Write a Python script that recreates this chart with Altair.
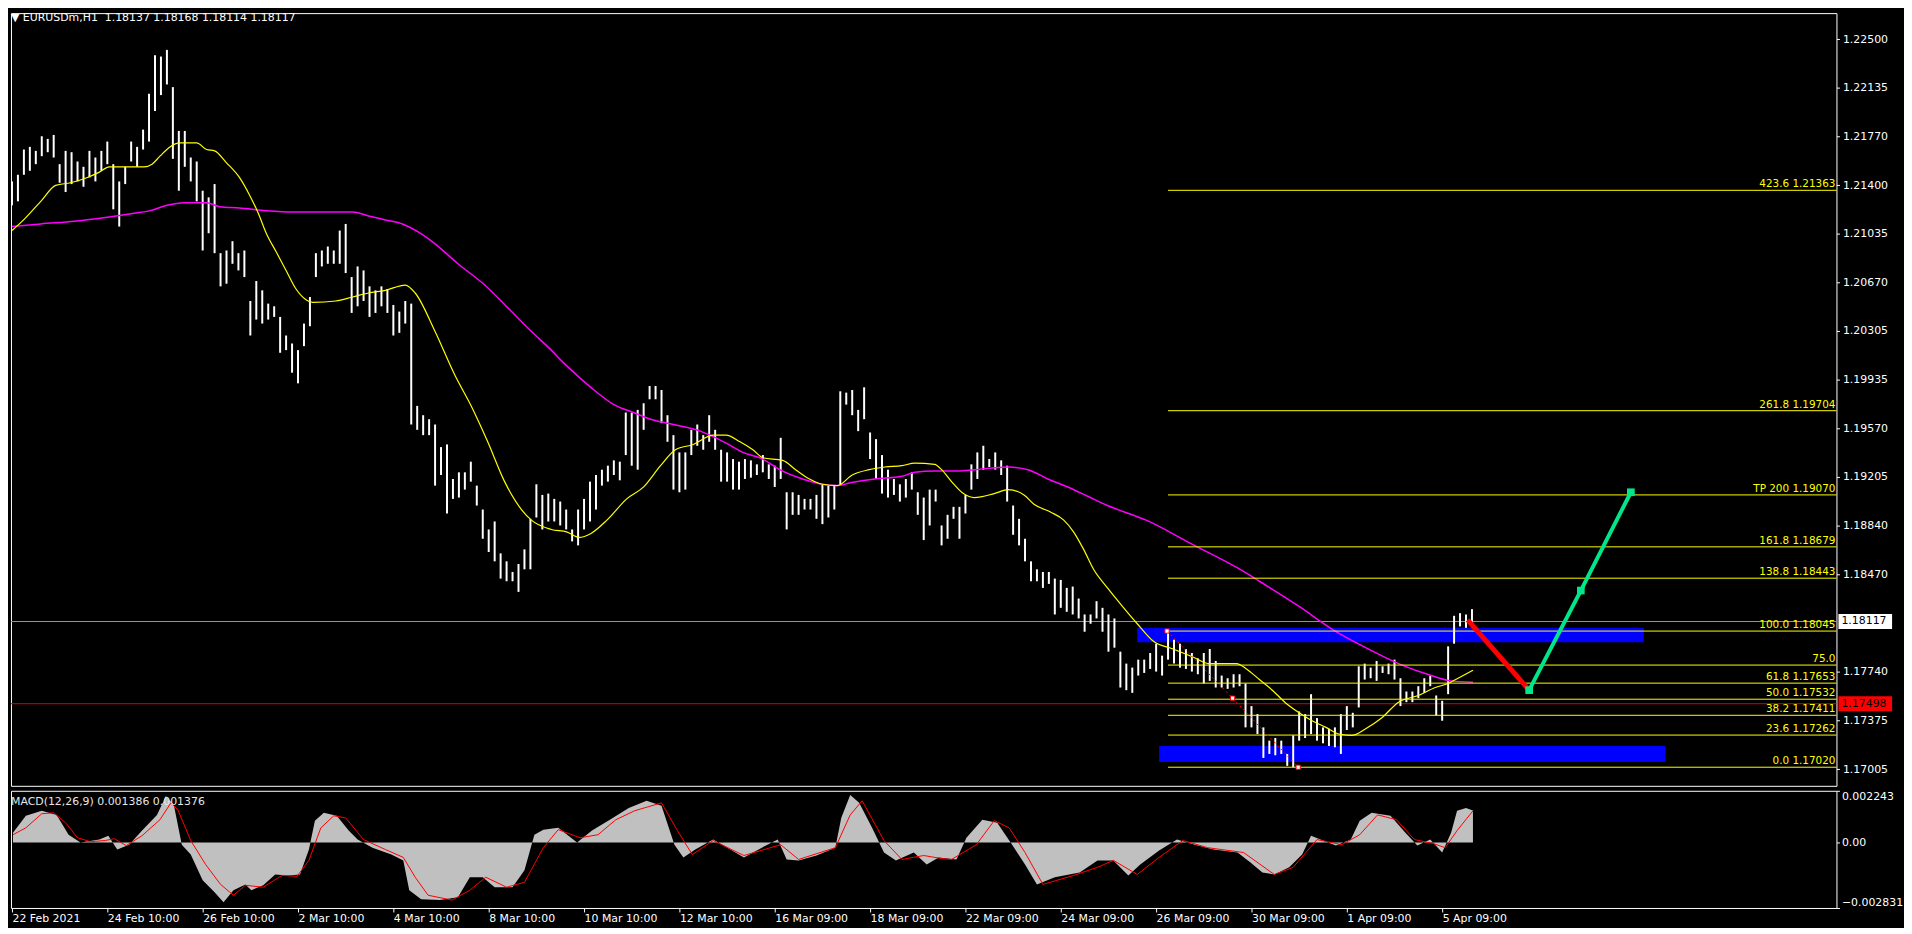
import altair as alt
import pandas as pd

FONT = "DejaVu Sans"
W = 1838
H_MAIN = 778
H_MACD = 118
X_DOMAIN = [-0.5, 918.5]
PRICE_DOMAIN = [1.16880, 1.22697]
MACD_DOMAIN = [-0.002831, 0.002243]

# ---------------- price bars (one drawn bar for every 3 hourly bars) ----------------
BAR_STEP = 3
bar_high = [
    1.2143, 1.2148, 1.2167, 1.2169, 1.2166, 1.2177, 1.2175, 1.2178, 1.2156, 1.2166,
    1.2165, 1.2158, 1.2154, 1.2166, 1.2161, 1.2166, 1.2173, 1.2156, 1.2143, 1.2154,
    1.2173, 1.2169, 1.2182, 1.2209, 1.2238, 1.2237, 1.2242, 1.2214, 1.2181, 1.2181,
    1.2161, 1.2158, 1.2136, 1.2131, 1.2141, 1.2089, 1.2091, 1.2098, 1.2089, 1.2091,
    1.2053, 1.2068, 1.2061, 1.2051, 1.2049, 1.2041, 1.2027, 1.2021, 1.2016, 1.2036,
    1.2056, 1.2089, 1.2091, 1.2094, 1.2091, 1.2106, 1.2111, 1.2071, 1.2079, 1.2076,
    1.2064, 1.2061, 1.2064, 1.2062, 1.2050, 1.2045, 1.2053, 1.2051, 1.1974, 1.1967,
    1.1964, 1.1960, 1.1943, 1.1945, 1.1919, 1.1924, 1.1924, 1.1932, 1.1914, 1.1896,
    1.1881, 1.1887, 1.1863, 1.1857, 1.1849, 1.1855, 1.1866, 1.1889, 1.1915, 1.1907,
    1.1908, 1.1904, 1.1902, 1.1896, 1.1881, 1.1896, 1.1904, 1.1917, 1.1922, 1.1926,
    1.1929, 1.1933, 1.1932, 1.1969, 1.1969, 1.1971, 1.1976, 1.1989, 1.1989, 1.1986,
    1.1967, 1.1952, 1.1939, 1.1939, 1.1956, 1.1960, 1.1952, 1.1967, 1.1956, 1.1941,
    1.1939, 1.1934, 1.1932, 1.1934, 1.1933, 1.1930, 1.1937, 1.1930, 1.1929, 1.1950,
    1.1909, 1.1909, 1.1907, 1.1904, 1.1904, 1.1907, 1.1915, 1.1914, 1.1914, 1.1985,
    1.1984, 1.1986, 1.1971, 1.1988, 1.1954, 1.1949, 1.1937, 1.1926, 1.1919, 1.1915,
    1.1919, 1.1924, 1.1909, 1.1905, 1.1911, 1.1911, 1.1884, 1.1892, 1.1898, 1.1898,
    1.1907, 1.1930, 1.1939, 1.1944, 1.1934, 1.1939, 1.1933, 1.1929, 1.1899, 1.1889,
    1.1874, 1.1857, 1.1851, 1.1849, 1.1849, 1.1844, 1.1843, 1.1837, 1.1838, 1.1829,
    1.1817, 1.1817, 1.1827, 1.1822, 1.1817, 1.1814, 1.1789, 1.1780, 1.1777, 1.1783,
    1.1783, 1.1788, 1.1795, 1.1786, 1.1804, 1.1798, 1.1795, 1.1791, 1.1788, 1.1784,
    1.1788, 1.1791, 1.1782, 1.1771, 1.1769, 1.1772, 1.1772, 1.1765, 1.1748, 1.1742,
    1.1732, 1.1722, 1.1724, 1.1722, 1.1712, 1.1726, 1.1744, 1.1742, 1.1757, 1.1739,
    1.1732, 1.1731, 1.1732, 1.1742, 1.1748, 1.1743, 1.1778, 1.1780, 1.1777, 1.1782,
    1.1778, 1.1780, 1.1783, 1.1769, 1.1759, 1.1759, 1.1763, 1.1769, 1.1771, 1.1756,
    1.1752, 1.1793, 1.1816, 1.1818, 1.1817, 1.1821,
]
bar_low = [
    1.2125, 1.2128, 1.2148, 1.2151, 1.2156, 1.2162, 1.2165, 1.2161, 1.2142, 1.2135,
    1.2141, 1.2143, 1.2139, 1.2146, 1.2143, 1.2151, 1.2156, 1.2122, 1.2109, 1.2141,
    1.2158, 1.2154, 1.2167, 1.2173, 1.2196, 1.2208, 1.2216, 1.2160, 1.2136, 1.2154,
    1.2143, 1.2128, 1.2091, 1.2104, 1.2089, 1.2064, 1.2066, 1.2081, 1.2076, 1.2071,
    1.2027, 1.2039, 1.2036, 1.2039, 1.2041, 1.2014, 1.2016, 1.1999, 1.1991, 1.2019,
    1.2034, 1.2071, 1.2079, 1.2081, 1.2081, 1.2081, 1.2074, 1.2044, 1.2049, 1.2053,
    1.2041, 1.2044, 1.2049, 1.2044, 1.2027, 1.2029, 1.2036, 1.1960, 1.1956, 1.1952,
    1.1952, 1.1914, 1.1922, 1.1893, 1.1904, 1.1905, 1.1911, 1.1917, 1.1899, 1.1874,
    1.1864, 1.1857, 1.1844, 1.1842, 1.1842, 1.1834, 1.1851, 1.1851, 1.1890, 1.1881,
    1.1887, 1.1887, 1.1884, 1.1881, 1.1872, 1.1869, 1.1881, 1.1887, 1.1896, 1.1914,
    1.1917, 1.1922, 1.1918, 1.1937, 1.1929, 1.1926, 1.1956, 1.1979, 1.1979, 1.1961,
    1.1947, 1.1911, 1.1909, 1.1911, 1.1937, 1.1944, 1.1941, 1.1947, 1.1941, 1.1917,
    1.1917, 1.1911, 1.1911, 1.1919, 1.1920, 1.1922, 1.1924, 1.1919, 1.1913, 1.1919,
    1.1881, 1.1892, 1.1892, 1.1896, 1.1896, 1.1889, 1.1885, 1.1890, 1.1896, 1.1914,
    1.1975, 1.1967, 1.1955, 1.1964, 1.1934, 1.1919, 1.1908, 1.1905, 1.1907, 1.1902,
    1.1905, 1.1911, 1.1892, 1.1873, 1.1884, 1.1902, 1.1869, 1.1874, 1.1889, 1.1874,
    1.1893, 1.1911, 1.1919, 1.1926, 1.1928, 1.1926, 1.1922, 1.1902, 1.1877, 1.1869,
    1.1857, 1.1842, 1.1842, 1.1837, 1.1840, 1.1817, 1.1822, 1.1819, 1.1817, 1.1814,
    1.1804, 1.1810, 1.1814, 1.1804, 1.1789, 1.1792, 1.1762, 1.1760, 1.1758, 1.1771,
    1.1773, 1.1776, 1.1774, 1.1771, 1.1783, 1.1780, 1.1777, 1.1776, 1.1774, 1.1772,
    1.1765, 1.1767, 1.1762, 1.1762, 1.1761, 1.1762, 1.1763, 1.1732, 1.1732, 1.1727,
    1.1709, 1.1712, 1.1711, 1.1712, 1.1703, 1.1702, 1.1722, 1.1724, 1.1727, 1.1722,
    1.1720, 1.1718, 1.1717, 1.1712, 1.1730, 1.1732, 1.1747, 1.1768, 1.1769, 1.1767,
    1.1773, 1.1772, 1.1768, 1.1748, 1.1751, 1.1751, 1.1754, 1.1758, 1.1763, 1.1741,
    1.1737, 1.1757, 1.1795, 1.1808, 1.1807, 1.1810,
]

# ---------------- moving averages ----------------
fast_ma_bar = [0, 6.5, 14.5, 22, 29.5, 38, 44, 49, 55.5, 66.5, 70.5, 74.5, 79.5, 84.5, 93, 98, 102, 108,
               114.5, 119.5, 124, 128, 133, 138, 143, 148, 151.5, 163, 171.5, 179.5, 188, 198, 203, 213,
               223, 231.5, 239.5, 248, 256.5, 261.5, 271.5, 279.5, 285.5, 291.5, 299.5, 309.5, 318, 326.5,
               334, 343, 353, 359.5, 366.5, 373, 378, 388, 394.5, 401.5, 408, 415.5, 423, 431.5, 439.5, 448,
               454.5, 464.5, 468, 473, 479, 484.5, 494.5, 501.5, 509.5, 514.5, 523, 529.5, 534.5, 539.5,
               544.5, 551.5, 558, 566.5, 574.5, 584.5, 594.5, 603, 616.5, 621.5, 628, 634.5, 641.5, 648,
               654.5, 661.5, 668, 674.5, 681.5, 689.5, 698, 708, 716.5, 723, 728, 735.5]
fast_ma_val = [1.2106, 1.2115, 1.2128, 1.2140, 1.2142, 1.2146, 1.2150, 1.2154, 1.2154, 1.2154, 1.2156,
               1.2162, 1.2169, 1.2172, 1.2172, 1.2167, 1.2166, 1.2157, 1.2146, 1.2133, 1.2119, 1.2104,
               1.2090, 1.2076, 1.2062, 1.2054, 1.2052, 1.2053, 1.2056, 1.2059, 1.2061, 1.2065, 1.2059,
               1.2030, 1.1997, 1.1973, 1.1947, 1.1917, 1.1896, 1.1888, 1.1881, 1.1879, 1.1875, 1.1878,
               1.1888, 1.1904, 1.1913, 1.1929, 1.1941, 1.1945, 1.1952, 1.1952, 1.1947, 1.1941, 1.1935,
               1.1933, 1.1926, 1.1919, 1.1915, 1.1914, 1.1922, 1.1926, 1.1928, 1.1929, 1.1931, 1.1930,
               1.1926, 1.1917, 1.1908, 1.1905, 1.1908, 1.1911, 1.1907, 1.1900, 1.1894, 1.1888, 1.1879,
               1.1866, 1.1851, 1.1837, 1.1825, 1.1810, 1.1797, 1.1791, 1.1785, 1.1780, 1.1780, 1.1776,
               1.1768, 1.1760, 1.1750, 1.1743, 1.1737, 1.1732, 1.1727, 1.1726, 1.1731, 1.1739, 1.1751,
               1.1756, 1.1762, 1.1765, 1.1769, 1.1775]
slow_ma_bar = [0, 14.5, 31.5, 48, 61.5, 69.5, 78, 86.5, 98, 104.5, 114.5, 128, 141.5, 171.5, 179.5, 188,
               196.5, 204.5, 213, 224.5, 238, 249.5, 261.5, 271.5, 278, 284.5, 293, 303, 313, 321.5, 333,
               346.5, 359.5, 368, 378, 386.5, 398, 408, 415.5, 421.5, 434.5, 448, 454.5, 464.5, 476.5,
               484.5, 501.5, 511.5, 521.5, 531.5, 541.5, 551.5, 571, 594, 617, 628, 648, 664.5, 681.5,
               698, 714.5, 724.5, 735.5]
slow_ma_val = [1.2109, 1.2111, 1.2113, 1.2116, 1.2119, 1.2121, 1.2125, 1.2127, 1.2127, 1.2124, 1.2123,
               1.2121, 1.2120, 1.2120, 1.2117, 1.2114, 1.2111, 1.2105, 1.2096, 1.2081, 1.2065, 1.2048,
               1.2030, 1.2016, 1.2006, 1.1997, 1.1986, 1.1975, 1.1969, 1.1964, 1.1960, 1.1955, 1.1946,
               1.1939, 1.1934, 1.1926, 1.1919, 1.1915, 1.1914, 1.1916, 1.1919, 1.1921, 1.1924, 1.1925,
               1.1925, 1.1926, 1.1928, 1.1926, 1.1919, 1.1913, 1.1906, 1.1899, 1.1888, 1.1870, 1.1852,
               1.1842, 1.1823, 1.1806, 1.1792, 1.1780, 1.1771, 1.1767, 1.1766]

# ---------------- MACD(12,26,9) ----------------
macd_bar = [0.5, 7, 15, 22.5, 28.5, 34.5, 44, 48.5, 53, 59,
            65.5, 73, 77.5, 81.5, 85.5, 90, 96, 102, 106.5, 111.5,
            117.5, 120.5, 126.5, 132.5, 139, 145, 149.5, 152.5, 157, 163.5,
            169.5, 174, 181.5, 191, 197, 200, 206, 215.5, 224.5, 230.5,
            237, 243, 252, 258, 263, 267.5, 275, 284.5, 292, 301,
            310.5, 319.5, 327, 333.5, 338, 344, 353, 362.5, 368.5, 377.5,
            385.5, 390, 396, 405, 414.5, 417.5, 422, 426.5, 433, 439,
            445, 454, 460.5, 466.5, 475.5, 480.5, 488.5, 496, 503.5, 510,
            516, 525, 537.5, 546.5, 554.5, 562, 568, 577.5, 586.5, 595.5,
            605, 617, 623.5, 629.5, 635.5, 643, 649.5, 654, 660, 666.5,
            674, 678.5, 684.5, 694, 701.5, 707.5, 714, 720, 724.5, 727.5,
            732, 735.5]
macd_val = [0.00043, 0.00116, 0.00138, 0.0012, 0.00034, 0.0, 0.00013, 0.0003, -0.0003, -0.00009,
            0.00052, 0.0012, 0.00202, 0.00163, -0.00009, -0.00052, -0.00163, -0.00215, -0.00258, -0.00206,
            -0.00181, -0.00206, -0.00185, -0.00138, -0.00142, -0.00138, -0.0003, 0.00095, 0.00129, 0.00116,
            0.00052, 0.00013, -0.00022, -0.00052, -0.00077, -0.00206, -0.00245, -0.00249, -0.00237, -0.0015,
            -0.0015, -0.00193, -0.00193, -0.0012, 0.00034, 0.00056, 0.00064, 0.0, 0.00052, 0.00099,
            0.0015, 0.00181, 0.00159, -0.00009, -0.00064, -0.0003, 0.00013, -0.00034, -0.00064, -0.00022,
            0.00013, -0.00073, -0.00077, -0.00056, -0.00022, 0.00108, 0.00206, 0.00172, 0.00064, -0.00043,
            -0.00077, -0.00043, -0.00095, -0.00064, -0.00073, 0.00021, 0.00099, 0.00086, -0.00009, -0.00095,
            -0.00181, -0.0015, -0.00129, -0.00077, -0.00077, -0.00142, -0.00095, -0.00034, 0.00013, -0.00009,
            -0.0003, -0.00043, -0.00086, -0.00129, -0.00138, -0.00107, -0.00052, 0.0003, 0.00009, -0.00013,
            0.00013, 0.00095, 0.00129, 0.00116, 0.00043, -0.00013, 0.00013, -0.00043, 0.00043, 0.00138,
            0.0015, 0.001386]
signal_bar = [0.5, 7, 15, 21, 27, 33, 39.5, 47, 51.5, 57.5,
              65.5, 74.5, 80, 83.5, 90, 97.5, 105, 111.5, 117.5, 126.5,
              136, 143.5, 149.5, 155.5, 162, 168, 177, 188, 197, 203,
              209.5, 221.5, 230.5, 238.5, 249, 258, 267.5, 275, 286, 295,
              304, 313.5, 327, 335, 342.5, 353, 368.5, 387, 396, 414.5,
              422, 428, 439, 448, 459, 468, 473, 485.5, 494.5, 502,
              510, 519, 534.5, 546.5, 554.5, 566.5, 577.5, 589.5, 602, 620,
              635.5, 645, 657, 669.5, 678.5, 687.5, 697, 706, 715.5, 721.5,
              727.5, 735.5]
signal_val = [0.00034, 0.00064, 0.00125, 0.00129, 0.00086, 0.00021, 0.00004, 0.00009, 0.00017, -0.00013,
              0.0003, 0.00099, 0.00172, 0.00142, 0.00009, -0.00095, -0.00181, -0.00228, -0.00185, -0.00193,
              -0.00142, -0.00146, -0.00077, 0.00064, 0.00116, 0.00107, 0.00013, -0.0003, -0.00064, -0.0015,
              -0.00228, -0.00249, -0.00206, -0.0015, -0.00193, -0.00172, -0.00022, 0.00056, 0.00021, 0.00034,
              0.00099, 0.00138, 0.00172, 0.00052, -0.00052, 0.00009, -0.00056, -0.00009, -0.00073, -0.00022,
              0.0012, 0.00181, 0.00009, -0.00073, -0.00056, -0.00069, -0.00073, -0.00009, 0.00095, 0.00064,
              -0.00043, -0.00181, -0.00142, -0.00107, -0.00077, -0.00138, -0.00064, 0.00009, -0.00022, -0.00043,
              -0.00138, -0.00107, 0.00013, -0.00009, 0.00034, 0.0012, 0.00099, 0.00013, -0.00004, -0.00022,
              0.00052, 0.001376]

# ---------------- Fibonacci & drawings ----------------
fib_names = ["423.6", "261.8", "TP 200", "161.8", "138.8", "100.0", "75.0", "61.8", "50.0", "38.2", "23.6", "0.0"]
fib_prices = [1.21363, 1.19704, 1.19070, 1.18679, 1.18443, 1.18045, 1.17789, 1.17653, 1.17532, 1.17411, 1.17262, 1.17020]
fib_show_price = [True, True, True, True, True, True, False, True, True, True, True, True]
fib_start_bar = 582

zone_bar_start = [566.5, 577.5]
zone_bar_end = [821.5, 832.5]
zone_top = [1.1807, 1.1718]
zone_bottom = [1.1796, 1.1706]

zigzag_bar = [581.5, 614.5, 647.5]
zigzag_price = [1.18045, 1.1754, 1.17020]

proj_red_bar = [732.8, 763.8]
proj_red_price = [1.1813, 1.1760]
proj_green_bar = [763.8, 789.8, 815.0]
proj_green_price = [1.1760, 1.1835, 1.1909]

bid_price = 1.18117
alert_price = 1.17498

symbol = "EURUSDm,H1"
ohlc = [1.18137, 1.18168, 1.18114, 1.18117]
macd_title = "MACD(12,26,9)"
macd_last = [0.001386, 0.001376]

price_ticks = [1.22500, 1.22135, 1.21770, 1.21400, 1.21035, 1.20670, 1.20305, 1.19935, 1.19570,
               1.19205, 1.18840, 1.18470, 1.17740, 1.17375, 1.17005]
macd_ticks = [0.002243, 0.0, -0.002831]
x_tick_bars = [0, 48, 96, 144, 192, 240, 288, 336, 384, 432, 480, 528, 576, 624, 672, 720]
x_tick_labels = ["22 Feb 2021", "24 Feb 10:00", "26 Feb 10:00", "2 Mar 10:00", "4 Mar 10:00",
                 "8 Mar 10:00", "10 Mar 10:00", "12 Mar 10:00", "16 Mar 09:00", "18 Mar 09:00",
                 "22 Mar 09:00", "24 Mar 09:00", "26 Mar 09:00", "30 Mar 09:00", "1 Apr 09:00",
                 "5 Apr 09:00"]

# ---------------- frames ----------------
bars = pd.DataFrame([{"bar": i * BAR_STEP, "high": h, "low": l}
                     for i, (h, l) in enumerate(zip(bar_high, bar_low))])
fast_df = pd.DataFrame([{"bar": b, "v": v} for b, v in zip(fast_ma_bar, fast_ma_val)])
slow_df = pd.DataFrame([{"bar": b, "v": v} for b, v in zip(slow_ma_bar, slow_ma_val)])
macd_df = pd.DataFrame([{"bar": b, "v": v} for b, v in zip(macd_bar, macd_val)])
sig_df = pd.DataFrame([{"bar": b, "v": v} for b, v in zip(signal_bar, signal_val)])
fib_df = pd.DataFrame([{"start": fib_start_bar, "price": p,
                        "label": (f"{n} {p:.5f}" if s else n)}
                       for n, p, s in zip(fib_names, fib_prices, fib_show_price)])
zone_df = pd.DataFrame([{"b0": a, "b1": b, "top": t, "bottom": bt}
                        for a, b, t, bt in zip(zone_bar_start, zone_bar_end, zone_top, zone_bottom)])
zz_df = pd.DataFrame([{"bar": b, "price": p} for b, p in zip(zigzag_bar, zigzag_price)])
red_df = pd.DataFrame([{"bar": b, "price": p} for b, p in zip(proj_red_bar, proj_red_price)])
green_df = pd.DataFrame([{"bar": b, "price": p} for b, p in zip(proj_green_bar, proj_green_price)])
hline_df = pd.DataFrame([{"price": bid_price, "c": "#8C96A0"}, {"price": alert_price, "c": "#E00000"}])
tag_df = pd.DataFrame([{"price": bid_price, "label": f"{bid_price:.5f}", "bg": "#FFFFFF", "fg": "#000000"},
                       {"price": alert_price, "label": f"{alert_price:.5f}", "bg": "#FF0000", "fg": "#000000"}])
header_df = pd.DataFrame([{"t": "\u25BC " + symbol + "\u00a0\u00a0" + " ".join(f"{v:.5f}" for v in ohlc)}])
macd_head_df = pd.DataFrame([{"t": macd_title + " " + " ".join(f"{v:.6f}" for v in macd_last)}])

# ---------------- scales / axes ----------------
xs = alt.Scale(domain=X_DOMAIN, nice=False, zero=False)
ys = alt.Scale(domain=PRICE_DOMAIN, nice=False, zero=False)
ms = alt.Scale(domain=MACD_DOMAIN, nice=False, zero=False)

y_axis = alt.Axis(orient="right", values=price_ticks, format=".5f", labelColor="#FFFFFF",
                  labelFont=FONT, labelFontSize=11, tickColor="#FFFFFF", tickSize=3,
                  labelPadding=3, domain=False, grid=False, title=None, labelOverlap=False)
m_axis = alt.Axis(orient="right", values=macd_ticks,
                  labelExpr="datum.value == 0 ? '0.00' : format(datum.value, '.6f')",
                  labelFlush=True, labelColor="#FFFFFF", labelFont=FONT, labelFontSize=11,
                  tickColor="#FFFFFF", tickSize=3, labelPadding=2, domain=False, grid=False,
                  title=None, labelOverlap=False)
label_js = "[" + ",".join("'" + s + "'" for s in x_tick_labels) + "]"
x_axis = alt.Axis(values=x_tick_bars, labelExpr=label_js + "[round(datum.value / 48)]",
                  labelAlign="left", labelBaseline="top", labelColor="#FFFFFF", labelFont=FONT,
                  labelFontSize=11, tickColor="#FFFFFF", tickSize=4, labelPadding=1, domain=False,
                  grid=False, title=None, labelOverlap=False, labelFlush=False)


def X(f):
    return alt.X(f, type="quantitative", scale=xs, axis=None)


def Y(f):
    return alt.Y(f, type="quantitative", scale=ys, axis=y_axis)


def XM(f):
    return alt.X(f, type="quantitative", scale=xs, axis=x_axis)


def YM(f):
    return alt.Y(f, type="quantitative", scale=ms, axis=m_axis)


GREEN = "#00E68A"

zones = alt.Chart(zone_df).mark_rect(color="#0000FF").encode(
    x=X("b0"), x2=alt.X2("b1"), y=Y("top"), y2=alt.Y2("bottom"))
hlines = alt.Chart(hline_df).mark_rule(strokeWidth=1).encode(
    y=Y("price"), color=alt.Color("c:N", scale=None))
bar_rules = alt.Chart(bars).mark_rule(color="#FFFFFF", strokeWidth=2).encode(
    x=X("bar"), y=Y("low"), y2=alt.Y2("high"))
slow_line = alt.Chart(slow_df).mark_line(color="#FF00FF", strokeWidth=1.5, interpolate="monotone").encode(
    x=X("bar"), y=Y("v"))
fast_line = alt.Chart(fast_df).mark_line(color="#FFFF00", strokeWidth=1.2, interpolate="monotone").encode(
    x=X("bar"), y=Y("v"))
fib_rules = alt.Chart(fib_df).mark_rule(color="#FFFF00", strokeWidth=1).encode(
    x=X("start"), x2=alt.value(W), y=Y("price"))
fib_text = alt.Chart(fib_df).mark_text(align="right", baseline="bottom", dx=-1, dy=-1,
                                       color="#FFFF00", font=FONT, fontSize=10.5).encode(
    x=alt.value(W), y=Y("price"), text="label:N")
zz_line = alt.Chart(zz_df).mark_line(color="#FF0000", strokeWidth=1, strokeDash=[2, 3]).encode(
    x=X("bar"), y=Y("price"))
zz_pts = alt.Chart(zz_df).mark_square(size=18, filled=True, fill="#FFFFFF", stroke="#FF0000",
                                      strokeWidth=1, opacity=1).encode(x=X("bar"), y=Y("price"))
red_line = alt.Chart(red_df).mark_line(color="#FF0000", strokeWidth=5).encode(
    x=X("bar"), y=Y("price"))
green_line = alt.Chart(green_df).mark_line(color=GREEN, strokeWidth=4).encode(
    x=X("bar"), y=Y("price"))
green_pts = alt.Chart(green_df).mark_square(size=60, filled=True, color=GREEN, opacity=1).encode(
    x=X("bar"), y=Y("price"))
tag_box = alt.Chart(tag_df).mark_rule(strokeWidth=15, strokeCap="butt").encode(
    y=Y("price"), x=alt.value(W + 2), x2=alt.value(W + 56), color=alt.Color("bg:N", scale=None))
tag_text = alt.Chart(tag_df).mark_text(align="left", baseline="middle", font=FONT, fontSize=11).encode(
    y=Y("price"), x=alt.value(W + 5), text="label:N", color=alt.Color("fg:N", scale=None))
header = alt.Chart(header_df).mark_text(align="left", baseline="middle", color="#FFFFFF",
                                        font=FONT, fontSize=11).encode(
    x=alt.value(0), y=alt.value(5), text="t:N")

main = alt.layer(zones, hlines, bar_rules, slow_line, fast_line, fib_rules, fib_text,
                 zz_line, zz_pts, red_line, green_line, green_pts, tag_box, tag_text,
                 header).properties(width=W, height=H_MAIN)

macd_area = alt.Chart(macd_df).mark_area(color="#C0C0C0", opacity=1, interpolate="linear").encode(
    x=XM("bar"), y=YM("v"), y2=alt.datum(0))
sig_line = alt.Chart(sig_df).mark_line(color="#FF0000", strokeWidth=1).encode(
    x=XM("bar"), y=YM("v"))
macd_head = alt.Chart(macd_head_df).mark_text(align="left", baseline="middle", color="#E6E6E6",
                                              font=FONT, fontSize=11).encode(
    x=alt.value(0), y=alt.value(11), text="t:N")
macd = alt.layer(macd_area, sig_line, macd_head).properties(width=W, height=H_MACD)

chart = alt.vconcat(main, macd, spacing=3).properties(
    padding=0, background="#000000"
).configure_view(stroke="#FFFFFF", strokeWidth=1, fill="#000000")

chart.save("out.html", embed_options={"renderer": "svg", "actions": False})
